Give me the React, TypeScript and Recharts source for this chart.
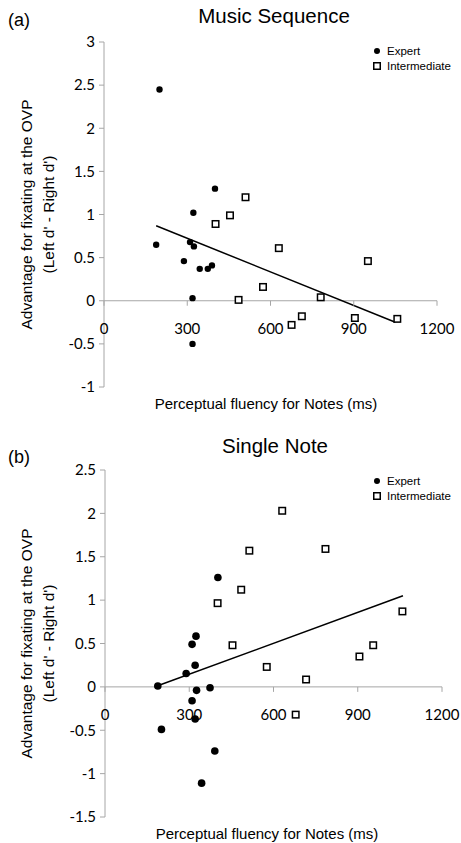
import React from 'react';
import { ScatterChart, Scatter, XAxis, YAxis, ReferenceLine, Legend } from 'recharts';

const xTicks = [0, 300, 600, 900, 1200];
const musicYTicks = [-1, -0.5, 0, 0.5, 1, 1.5, 2, 2.5, 3];
const noteYTicks = [-1.5, -1, -0.5, 0, 0.5, 1, 1.5, 2, 2.5];

const musicExpertX = [200, 400, 322, 188, 310, 324, 288, 345, 374, 389, 319, 319];
const musicExpertY = [2.45, 1.3, 1.02, 0.65, 0.68, 0.63, 0.46, 0.37, 0.37, 0.41, 0.03, -0.5];
const musicInterX = [510, 402, 454, 630, 951, 573, 485, 781, 676, 713, 904, 1057];
const musicInterY = [1.2, 0.89, 0.99, 0.61, 0.46, 0.16, 0.01, 0.04, -0.28, -0.18, -0.2, -0.21];
const musicTrendX = [188, 1050];
const musicTrendY = [0.87, -0.25];

const noteExpertX = [402, 324, 310, 321, 289, 188, 326, 374, 310, 321, 201, 391, 344];
const noteExpertY = [1.26, 0.585, 0.49, 0.25, 0.155, 0.01, -0.04, -0.01, -0.16, -0.37, -0.49, -0.74, -1.11];
const noteInterX = [631, 514, 785, 485, 401, 1059, 454, 576, 716, 906, 955, 679];
const noteInterY = [2.03, 1.57, 1.59, 1.12, 0.965, 0.87, 0.48, 0.23, 0.085, 0.35, 0.48, -0.32];
const noteTrendX = [190, 1061];
const noteTrendY = [0.015, 1.05];

const seriesNames = ['Expert', 'Intermediate'];
const xTitle = 'Perceptual fluency for Notes (ms)';
const yTitle1 = 'Advantage for fixating at the OVP';
const yTitle2 = "(Left d' - Right d')";

const AXIS = '#a6a6a6';
const TICK_FONT = 'Lato, "Open Sans", sans-serif';
const TEXT_FONT = '"Liberation Sans", Arial, sans-serif';

const zip = (xs: number[], ys: number[]) => xs.map((x, i) => ({ x, y: ys[i] }));

type PanelProps = {
  top: number;
  height: number;
  marginTop: number;
  marginRight: number;
  yAxisWidth: number;
  xAxisHeight: number;
  yDomain: [number, number];
  yTicks: number[];
  expert: { x: number; y: number }[];
  inter: { x: number; y: number }[];
  trend: { x: number; y: number }[];
  title: string;
  titleX: number;
  titleBaseline: number;
  tag: string;
  tagBaseline: number;
  legendTop: number;
  xTitleX: number;
  dotR: number;
};

const Panel = (p: PanelProps) => {
  const W = 461;
  const plotH = p.height - p.marginTop - p.xAxisHeight;
  const zeroY = p.marginTop + (plotH * p.yDomain[1]) / (p.yDomain[1] - p.yDomain[0]);
  const xTick = (props: any) => {
    const { x, payload } = props;
    return (
      <g>
        <line x1={x} x2={x} y1={zeroY} y2={zeroY + 5} stroke={AXIS} strokeWidth={1} />
        <text x={x} y={zeroY + 27} textAnchor="middle" dominantBaseline="central" fontFamily={TICK_FONT} fontSize={15} fill="#000">
          {payload.value}
        </text>
      </g>
    );
  };
  const yLabel = (lp: any) => {
    const vb = lp.viewBox || { x: 0, y: p.marginTop, width: p.yAxisWidth, height: plotH };
    const cy = vb.y + vb.height / 2;
    return (
      <g>
        <text x={26} y={cy} transform={`rotate(-90 26 ${cy})`} textAnchor="middle" dominantBaseline="central" fontFamily={TEXT_FONT} fontSize={15.5} fill="#000">
          {yTitle1}
        </text>
        <text x={48} y={cy} transform={`rotate(-90 48 ${cy})`} textAnchor="middle" dominantBaseline="central" fontFamily={TEXT_FONT} fontSize={15.5} fill="#000">
          {yTitle2}
        </text>
      </g>
    );
  };
  const xLabel = (lp: any) => {
    const vb = lp.viewBox || { x: 0, y: p.height - p.xAxisHeight };
    return (
      <text x={p.xTitleX} y={vb.y + 22} textAnchor="middle" fontFamily={TEXT_FONT} fontSize={15} fill="#000">
        {xTitle}
      </text>
    );
  };
  const legendContent = (lp: any) => {
    const items = (lp.payload || []).filter((e: any) => seriesNames.includes(e.value));
    return (
      <div style={{ fontFamily: TEXT_FONT, fontSize: 11.5, color: '#000' }}>
        {items.map((e: any) => (
          <div key={e.value} style={{ display: 'flex', alignItems: 'center', height: 15.5, whiteSpace: 'nowrap' }}>
            <svg width={10} height={10} style={{ marginRight: 5 }}>
              {e.value === 'Expert' ? (
                <circle cx={5} cy={5} r={3} fill="#000" />
              ) : (
                <rect x={1.75} y={1.75} width={6.5} height={6.5} fill="#fff" stroke="#000" strokeWidth={1.5} />
              )}
            </svg>
            <span>{e.value}</span>
          </div>
        ))}
      </div>
    );
  };
  const r = p.dotR;
  return (
    <div style={{ position: 'absolute', left: 0, top: p.top, width: W, height: p.height }}>
      <div style={{ position: 'absolute', left: 8, top: p.tagBaseline - 0.8465 * 18, fontFamily: TEXT_FONT, fontSize: 18, lineHeight: '18px', color: '#000' }}>
        {p.tag}
      </div>
      <div style={{ position: 'absolute', left: p.titleX - 150, width: 300, textAlign: 'center', top: p.titleBaseline - 0.8465 * 20.5, fontFamily: TEXT_FONT, fontSize: 20.5, lineHeight: '20.5px', color: '#000' }}>
        {p.title}
      </div>
      <ScatterChart width={W} height={p.height} margin={{ top: p.marginTop, right: p.marginRight, bottom: 0, left: 0 }}>
        <XAxis
          type="number"
          dataKey="x"
          domain={[0, 1200]}
          ticks={xTicks}
          interval={0}
          axisLine={false}
          tickLine={false}
          tick={xTick}
          height={p.xAxisHeight}
          label={xLabel}
        />
        <YAxis
          type="number"
          dataKey="y"
          domain={p.yDomain}
          ticks={p.yTicks}
          interval={0}
          width={p.yAxisWidth}
          axisLine={{ stroke: AXIS }}
          tickLine={{ stroke: AXIS }}
          tickSize={5}
          tickMargin={4}
          tick={{ fontFamily: TICK_FONT, fontSize: 15, fill: '#000' }}
          label={yLabel}
        />
        <ReferenceLine y={0} stroke={AXIS} strokeWidth={1} />
        <ReferenceLine segment={p.trend} stroke="#000" strokeWidth={1.5} />
        <Scatter
          name={seriesNames[0]}
          data={p.expert}
          isAnimationActive={false}
          fill="#000"
          shape={(s: any) => <circle cx={s.cx} cy={s.cy} r={r} fill="#000" />}
        />
        <Scatter
          name={seriesNames[1]}
          data={p.inter}
          isAnimationActive={false}
          fill="#fff"
          shape={(s: any) => (
            <rect x={s.cx - 3.25} y={s.cy - 3.25} width={6.5} height={6.5} fill="#fff" stroke="#000" strokeWidth={1.5} />
          )}
        />
        <Legend
          layout="vertical"
          align="center"
          verticalAlign="middle"
          wrapperStyle={{ position: 'absolute', left: 372, top: p.legendTop, width: 'auto', height: 'auto' }}
          content={legendContent}
        />
      </ScatterChart>
    </div>
  );
};

export default function App() {
  return (
    <div style={{ position: 'absolute', left: 0, top: 0, width: 461, height: 843, background: '#fff' }}>
      <Panel
        top={0}
        height={420}
        marginTop={42}
        marginRight={24}
        yAxisWidth={104}
        xAxisHeight={33}
        yDomain={[-1, 3]}
        yTicks={musicYTicks}
        expert={zip(musicExpertX, musicExpertY)}
        inter={zip(musicInterX, musicInterY)}
        trend={zip(musicTrendX, musicTrendY)}
        title="Music Sequence"
        titleX={274}
        titleBaseline={23}
        tag="(a)"
        tagBaseline={26}
        legendTop={43}
        xTitleX={266}
        dotR={3.2}
      />
      <Panel
        top={420}
        height={423}
        marginTop={50}
        marginRight={19}
        yAxisWidth={105}
        xAxisHeight={26}
        yDomain={[-1.5, 2.5]}
        yTicks={noteYTicks}
        expert={zip(noteExpertX, noteExpertY)}
        inter={zip(noteInterX, noteInterY)}
        trend={zip(noteTrendX, noteTrendY)}
        title="Single Note"
        titleX={275}
        titleBaseline={33}
        tag="(b)"
        tagBaseline={43}
        legendTop={53}
        xTitleX={267}
        dotR={3.8}
      />
    </div>
  );
}
